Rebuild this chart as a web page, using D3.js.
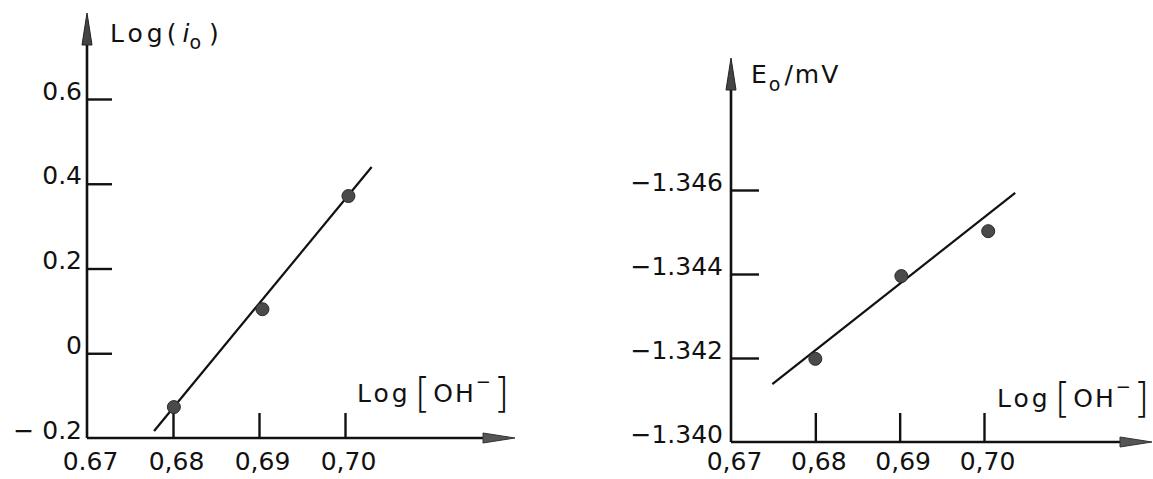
<!DOCTYPE html>
<html>
<head>
<script src="https://d3js.org/d3.v7.min.js"></script>
<style type="text/css">
  body{
    margin: 0;
    background: white;
  }
  svg text{
    font-family: 'DejaVu Sans';
    fill: #111;
  }
  .axis .domain{
    display: none;
  }
  .axis line{
    stroke: #111;
    stroke-width: 2.4;
  }
  .axis text{
    font-size: 25px;
  }
</style>
</head>
<body>
<svg id="chart" width="1153" height="479"></svg>
<script>

// x values shared by both plots (Log[OH-])
var xTicks = [0.67, 0.68, 0.69, 0.70];
var xTickLabelsA = ["0.67", "0,68", "0,69", "0,70"];
var xTickLabelsB = ["0,67", "0,68", "0,69", "0,70"];

// left plot: Log(i0)
var yTicksA = [-0.2, 0, 0.2, 0.4, 0.6];
var yTickLabelsA = ["\u2212 0.2", "0", "0.2", "0.4", "0.6"];
var logOH_A = [0.6801, 0.6904, 0.7004];
var logI0 = [-0.127, 0.104, 0.371];
var fitX_A = [0.6778, 0.7031];
var fitY_A = [-0.1835, 0.4395];

// right plot: E0 / mV
var yTicksB = [-1.340, -1.342, -1.344, -1.346];
var yTickLabelsB = ["\u22121.340", "\u22121.342", "\u22121.344", "\u22121.346"];
var logOH_B = [0.6800, 0.6902, 0.7005];
var E0 = [-1.34198, -1.34395, -1.34502];
var fitX_B = [0.6749, 0.7037];
var fitY_B = [-1.34138, -1.34593];

var svg = d3.select("#chart");

var panels = [
  {
    x: d3.scaleLinear().domain([0.67, 0.70]).range([87, 345]),
    y: d3.scaleLinear().domain([-0.2, 0.6]).range([438, 99]),
    xLabels: xTickLabelsA, yTicks: yTicksA, yLabels: yTickLabelsA,
    px: logOH_A, py: logI0, fx: fitX_A, fy: fitY_A,
    yTop: 13, xEnd: 515, xTick: 25, yTick: 25, labelY: 32,
    xTitle: [357, 402]
  },
  {
    x: d3.scaleLinear().domain([0.67, 0.70]).range([731, 984]),
    y: d3.scaleLinear().domain([-1.340, -1.346]).range([442, 190]),
    xLabels: xTickLabelsB, yTicks: yTicksB, yLabels: yTickLabelsB,
    px: logOH_B, py: E0, fx: fitX_B, fy: fitY_B,
    yTop: 58, xEnd: 1152, xTick: 29, yTick: 28, labelY: 28,
    xTitle: [997, 407]
  }
];

panels.forEach(function(p, k) {

  var x0 = p.x.range()[0];
  var y0 = p.y.range()[0];

  // x axis, ticks pointing up
  var gx = svg.append("g")
    .attr("class", "axis")
    .attr("transform", "translate(0," + y0 + ")")
    .call(d3.axisBottom(p.x)
      .tickValues(xTicks)
      .tickSizeInner(-p.xTick)
      .tickSizeOuter(0)
      .tickFormat(function(d, i) { return p.xLabels[i]; }));
  gx.selectAll(".tick text").attr("y", p.labelY).attr("dy", 0).attr("dx", 3);
  gx.selectAll(".tick line").filter(function(d, i) { return i == 0; }).remove();

  // y axis, ticks pointing right
  var gy = svg.append("g")
    .attr("class", "axis")
    .attr("transform", "translate(" + x0 + ",0)")
    .call(d3.axisLeft(p.y)
      .tickValues(p.yTicks)
      .tickSizeInner(-p.yTick)
      .tickSizeOuter(0)
      .tickPadding(k == 0 ? 5 : 8)
      .tickFormat(function(d, i) { return p.yLabels[i]; }));
  gy.selectAll(".tick text").attr("dy", 0);
  gy.selectAll(".tick line").filter(function(d, i) { return i == 0; }).remove();

  // axis lines with arrows
  svg.append("line")
    .attr("x1", x0).attr("y1", y0)
    .attr("x2", x0).attr("y2", p.yTop + 8)
    .attr("stroke", "#111").attr("stroke-width", 2.6);
  svg.append("path")
    .attr("d", "M" + x0 + "," + p.yTop + " L" + (x0 - 5) + "," + (p.yTop + 32) +
               " L" + (x0 + 5) + "," + (p.yTop + 32) + " Z")
    .attr("fill", "#444").attr("stroke", "#222").attr("stroke-width", 1);

  svg.append("line")
    .attr("x1", x0).attr("y1", y0)
    .attr("x2", p.xEnd - 8).attr("y2", y0)
    .attr("stroke", "#111").attr("stroke-width", 2.6);
  svg.append("path")
    .attr("d", "M" + p.xEnd + "," + y0 + " L" + (p.xEnd - 32) + "," + (y0 - 5) +
               " L" + (p.xEnd - 32) + "," + (y0 + 5) + " Z")
    .attr("fill", "#555").attr("stroke", "#333").attr("stroke-width", 1);

  // fitted line
  svg.append("line")
    .attr("x1", p.x(p.fx[0])).attr("y1", p.y(p.fy[0]))
    .attr("x2", p.x(p.fx[1])).attr("y2", p.y(p.fy[1]))
    .attr("stroke", "#111").attr("stroke-width", 2.2);

  // measured points
  svg.append("g").selectAll("circle")
    .data(p.px)
    .enter()
    .append("circle")
    .attr("cx", function(d) { return p.x(d); })
    .attr("cy", function(d, i) { return p.y(p.py[i]); })
    .attr("r", 6.5)
    .attr("fill", "#4a4a4a")
    .attr("stroke", "#2a2a2a")
    .attr("stroke-width", 1);

  // x title Log[OH-]
  var t = svg.append("text")
    .attr("x", p.xTitle[0]).attr("y", p.xTitle[1])
    .style("font-size", "25px")
    .style("letter-spacing", "3px");
  t.append("tspan").text("Log");
  t.append("tspan").attr("dx", 4).attr("dy", 5).style("font-size", "40px").style("font-weight", "200").text("[");
  t.append("tspan").attr("dy", -5).style("letter-spacing", "2px").text("OH");
  t.append("tspan").attr("dy", -14).style("font-size", "18px").text("\u2212");
  t.append("tspan").attr("dy", 19).style("font-size", "40px").style("font-weight", "200").text("]");
});

// y titles
var ta = svg.append("text")
  .attr("x", 110).attr("y", 42)
  .style("font-size", "25px")
  .style("letter-spacing", "4px");
ta.append("tspan").text("Log(");
ta.append("tspan").attr("dx", 2).style("font-style", "italic").style("letter-spacing", "0px").text("i");
ta.append("tspan").attr("dy", 7).style("font-size", "19px").text("o");
ta.append("tspan").attr("dy", -7).attr("dx", 4).text(")");

var tb = svg.append("text")
  .attr("x", 751).attr("y", 83)
  .style("font-size", "25px")
  .style("letter-spacing", "2px");
tb.append("tspan").text("E");
tb.append("tspan").attr("dy", 8).style("font-size", "19px").text("o");
tb.append("tspan").attr("dy", -8).attr("dx", 2).text("/mV");

</script>
</body>
</html>
